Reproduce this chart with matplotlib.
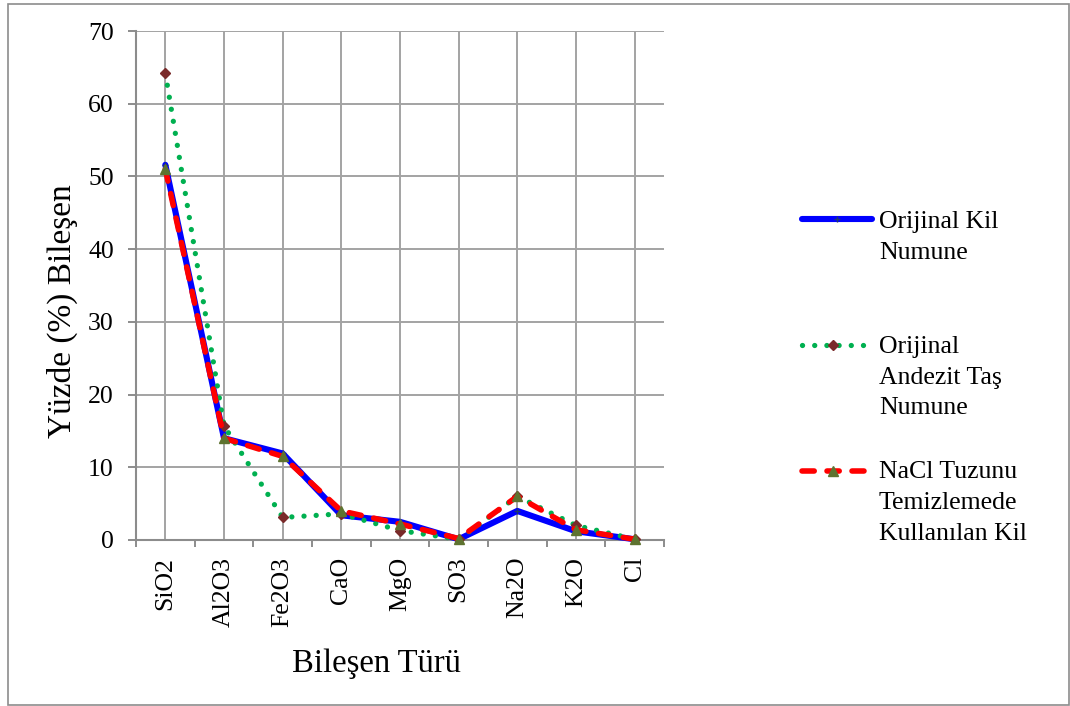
import numpy as np
import matplotlib
matplotlib.use("Agg")
import matplotlib.pyplot as plt
from matplotlib.lines import Line2D
from matplotlib.patches import Rectangle

plt.rcParams['font.family'] = ['Liberation Serif', 'DejaVu Serif']

# Oxide composition (%) of the three samples
categories = ["SiO2", "Al2O3", "Fe2O3", "CaO", "MgO", "SO3", "Na2O", "K2O", "Cl"]
orijinal_kil = [51.6, 14.0, 11.9, 3.4, 2.5, 0.1, 4.0, 1.2, 0.1]
andezit_tas = [64.2, 15.7, 3.1, 3.6, 1.3, 0.1, 6.0, 2.0, 0.1]
nacl_kil = [51.0, 14.0, 11.5, 4.0, 2.2, 0.2, 6.0, 1.4, 0.1]
y_ticks = [0, 10, 20, 30, 40, 50, 60, 70]

series_names = ["Orijinal Kil\nNumune",
                "Orijinal\nAndezit Taş\nNumune",
                "NaCl Tuzunu\nTemizlemede\nKullanılan Kil"]

W, H = 1070, 706
fig = plt.figure(figsize=(W / 100, H / 100), dpi=100)

def fx(px):
    return px / W

def fy(py):
    return (H - py) / H

ax = fig.add_axes([fx(136), fy(540), fx(664) - fx(136), fy(31) - fy(540)])

x = np.arange(len(categories))
grid_c = '#A3A3A3'
axis_c = '#8C8C8C'

styles = [
    dict(color='#0000FF', lw=4.4, ls='-', solid_capstyle='round', solid_joinstyle='round',
         marker='+', ms=4, mew=1, mec='#1F3A6E', zorder=3),
    dict(color='#00B050', lw=3.8, ls=(0, (0.01, 2.3)), dash_capstyle='round',
         marker='D', ms=5.5, mfc='#7A2A2A', mec='#7A2A2A', zorder=4),
    dict(color='#FF0000', lw=4.0, ls=(0, (2.2, 2.3)), dash_capstyle='round',
         marker='^', ms=7.5, mfc='#5E7330', mec='#5E7330', zorder=5),
]

for vals, st in zip([orijinal_kil, andezit_tas, nacl_kil], styles):
    ax.plot(x, vals, clip_on=False, **st)

ax.set_xlim(-0.5, len(categories) - 0.5)
ax.set_ylim(0, 70)
ax.set_yticks(y_ticks)
ax.set_xticks(x)
ax.set_xticklabels(categories, rotation=90, va='top', ha='center')
ax.set_xticks(np.arange(-0.5, len(categories), 1.0), minor=True)

ax.grid(True, which='major', color=grid_c, lw=1.4)
ax.set_axisbelow(True)

ax.tick_params(axis='x', which='major', length=0, pad=12, labelsize=18.5)
ax.tick_params(axis='x', which='minor', length=5, width=1.4, color=axis_c, direction='out')
ax.tick_params(axis='y', which='major', length=6, width=1.4, color=axis_c, pad=10, labelsize=18.5)

for side in ['top', 'right']:
    ax.spines[side].set_visible(False)
for side in ['left', 'bottom']:
    ax.spines[side].set_color(axis_c)
    ax.spines[side].set_linewidth(1.5)

ax.set_xlabel("Bileşen Türü", fontsize=23.5)
ax.xaxis.set_label_coords((376 - 136) / 528, (540 - 672) / 509)
ax.xaxis.label.set_va('baseline')

ax.set_ylabel("Yüzde (%) Bileşen", fontsize=24)
ax.yaxis.set_label_coords((71 - 136) / 528, (540 - 311) / 509)
ax.yaxis.label.set_va('baseline')

# Legend drawn at the right of the plot, handle level with the first text line
handle_y = [219, 345, 471]
handle_x = [(802, 872), (802, 864), (802, 864)]
text_baselines = [[228, 259], [353, 384, 414], [478, 509, 540]]
for st, hy, (hx0, hx1), name, bases in zip(styles, handle_y, handle_x,
                                            series_names, text_baselines):
    line_kw = {k: v for k, v in st.items() if k not in ('marker', 'ms', 'mew', 'mec', 'mfc', 'zorder')}
    fig.add_artist(Line2D([fx(hx0), fx(hx1)], [fy(hy), fy(hy)],
                          transform=fig.transFigure, **line_kw))
    mk = {k: v for k, v in st.items() if k in ('marker', 'ms', 'mew', 'mec', 'mfc')}
    fig.add_artist(Line2D([fx((hx0 + hx1) / 2)], [fy(hy)],
                          transform=fig.transFigure, ls='none', **mk))
    for txt, b in zip(name.split("\n"), bases):
        fig.text(fx(879), fy(b), txt, fontsize=18.5, ha='left', va='baseline')

# Outer frame
fig.add_artist(Rectangle((fx(8), fy(705)), fx(1069) - fx(8), fy(4) - fy(705),
                         transform=fig.transFigure, fill=False,
                         edgecolor='#8C8C8C', lw=1.2))

fig.savefig("out.png", dpi=100)
